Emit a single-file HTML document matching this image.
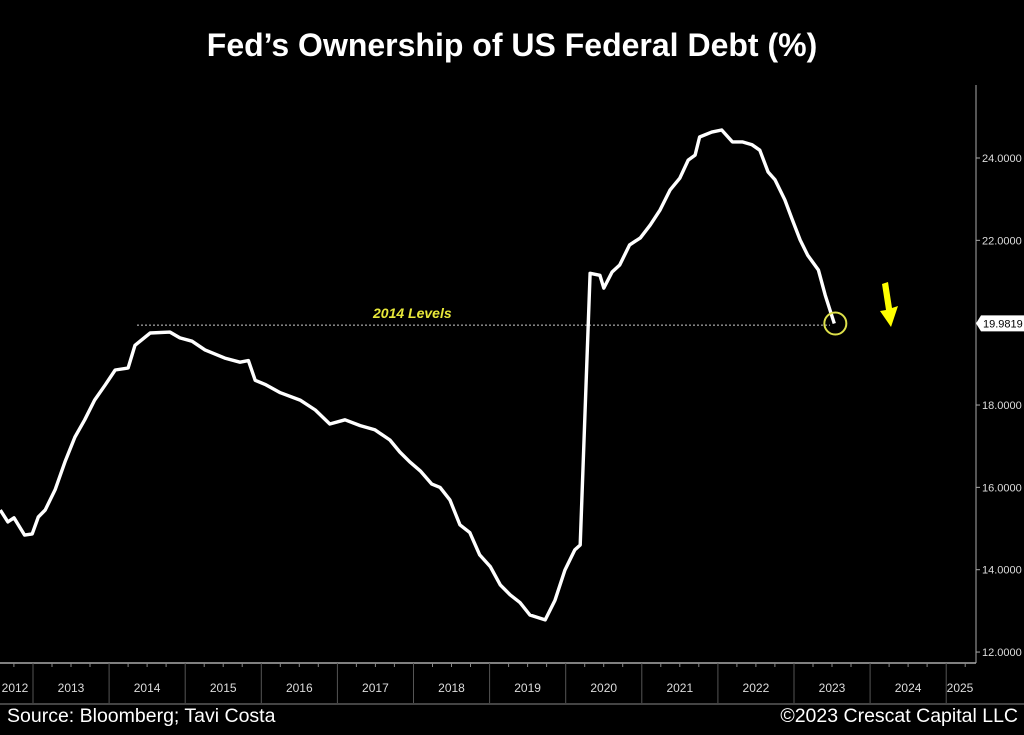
<!DOCTYPE html>
<html><head><meta charset="utf-8"><style>
html,body{margin:0;padding:0;background:#000;}
body{width:1024px;height:730px;overflow:hidden;font-family:"Liberation Sans",sans-serif;}
</style></head><body>
<svg width="1024" height="730" viewBox="0 0 1024 730" id="chart">
<rect width="1024" height="730" fill="#000"/>
<text x="512" y="56" text-anchor="middle" fill="#fff" font-size="32" font-weight="bold">Fed’s Ownership of US Federal Debt (%)</text>
<g id="axes"></g>
<g id="marks"></g>
<text x="7" y="722" fill="#fff" font-size="19.5">Source: Bloomberg; Tavi Costa</text>
<text x="1018" y="722" text-anchor="end" fill="#fff" font-size="19.5">©2023 Crescat Capital LLC</text>
</svg>
<script>
const times=[2012.57,2012.67,2012.75,2012.89,2012.99,2013.07,2013.16,2013.29,2013.42,2013.55,2013.68,2013.81,2013.95,2014.08,2014.25,2014.34,2014.54,2014.80,2014.93,2015.09,2015.26,2015.52,2015.72,2015.83,2015.92,2016.05,2016.25,2016.51,2016.71,2016.90,2017.10,2017.30,2017.49,2017.69,2017.82,2017.95,2018.09,2018.24,2018.35,2018.48,2018.61,2018.74,2018.87,2019.01,2019.14,2019.27,2019.40,2019.53,2019.73,2019.86,2019.99,2020.12,2020.19,2020.32,2020.45,2020.50,2020.61,2020.71,2020.84,2020.98,2021.11,2021.24,2021.37,2021.50,2021.61,2021.70,2021.76,2021.92,2022.05,2022.19,2022.32,2022.45,2022.55,2022.66,2022.75,2022.88,2022.97,2023.08,2023.18,2023.32,2023.41,2023.53];
const values=[15.45,15.16,15.26,14.84,14.87,15.28,15.45,15.94,16.62,17.22,17.64,18.12,18.49,18.85,18.90,19.45,19.75,19.77,19.63,19.55,19.34,19.14,19.04,19.08,18.60,18.50,18.30,18.12,17.88,17.54,17.64,17.50,17.40,17.15,16.86,16.62,16.40,16.08,16.00,15.69,15.09,14.90,14.36,14.07,13.63,13.39,13.20,12.90,12.78,13.26,13.99,14.48,14.60,21.20,21.15,20.84,21.23,21.40,21.89,22.06,22.37,22.74,23.22,23.51,23.95,24.07,24.51,24.63,24.68,24.39,24.39,24.32,24.19,23.66,23.47,22.98,22.54,22.01,21.64,21.28,20.67,19.98];
const yTicks=[12,14,16,18,20,22,24];
const yearLabels=[2012,2013,2014,2015,2016,2017,2018,2019,2020,2021,2022,2023,2024,2025];
const lastValue=19.9819;
const level2014=19.77;

const X=t=>33+(t-2013)*76.1;
const Y=v=>158+(24-v)*41.17;
const NS='http://www.w3.org/2000/svg';
const axes=document.getElementById('axes'),marks=document.getElementById('marks');
function mk(tag,attrs,parent,txt){const e=document.createElementNS(NS,tag);for(const k in attrs)e.setAttribute(k,attrs[k]);if(txt!==undefined)e.textContent=txt;parent.appendChild(e);return e;}

let e=mk('line',{x1:976,y1:85,x2:976,y2:663,stroke:'#aaa','stroke-width':1},axes);

e=mk('line',{x1:0,y1:663,x2:976,y2:663,stroke:'#aaa','stroke-width':1.5},axes);

e=mk('line',{x1:0,y1:704,x2:1024,y2:704,stroke:'#444','stroke-width':2},axes);

yTicks.forEach(v=>{
  const t=mk('line',{x1:976,y1:Y(v),x2:980,y2:Y(v),stroke:'#aaa'},axes);
  
  const l=mk('text',{x:982,y:Y(v)+4,fill:'#ddd','font-size':11},axes,v.toFixed(4));
  
});
yearLabels.forEach(yr=>{
  const x0=X(yr);
  if(yr>=2013){const s=mk('line',{x1:x0,y1:663,x2:x0,y2:703,stroke:'#555'},axes);
  }
  for(let q=1;q<4;q++){if(x0+q*19>976)continue;const m=mk('line',{x1:x0+q*19,y1:663,x2:x0+q*19,y2:667,stroke:'#888'},axes);
  }
  let cx=x0+38; if(yr===2012)cx=15; if(yr===2025)cx=960;
  const l=mk('text',{x:cx,y:692,fill:'#ddd','font-size':12,'text-anchor':'middle'},axes,String(yr));
  
});
e=mk('line',{x1:137,y1:Y(level2014)-7,x2:830,y2:Y(level2014)-7,stroke:'#ccc','stroke-dasharray':'2,2','stroke-width':1},marks);

e=mk('text',{x:373,y:318,fill:'#e8e83a','font-size':14,'font-style':'italic','font-weight':'bold'},marks,'2014 Levels');

const d=times.map((t,i)=>(i?'L':'M')+X(t).toFixed(1)+','+Y(values[i]).toFixed(1)).join(' ');
e=mk('path',{d:d,fill:'none',stroke:'#fff','stroke-width':3.4,'stroke-linejoin':'round'},marks);

const lt=times[times.length-1],lv=values[values.length-1];
e=mk('circle',{cx:X(lt)+1,cy:Y(lv),r:11,fill:'none',stroke:'#dde04a','stroke-width':2},marks);

e=mk('polygon',{points:'882,284 888,282 892,308 898,306 891,327 880,311 886,310',fill:'#ffff00'},marks);

const ly=Y(lastValue);
e=mk('polygon',{points:`976,${ly} 981,${ly-8} 1024,${ly-8} 1024,${ly+8} 981,${ly+8}`,fill:'#fff'},marks);

e=mk('text',{x:983,y:ly+4,fill:'#000','font-size':11},marks,lastValue.toFixed(4));

</script>
</body></html>
